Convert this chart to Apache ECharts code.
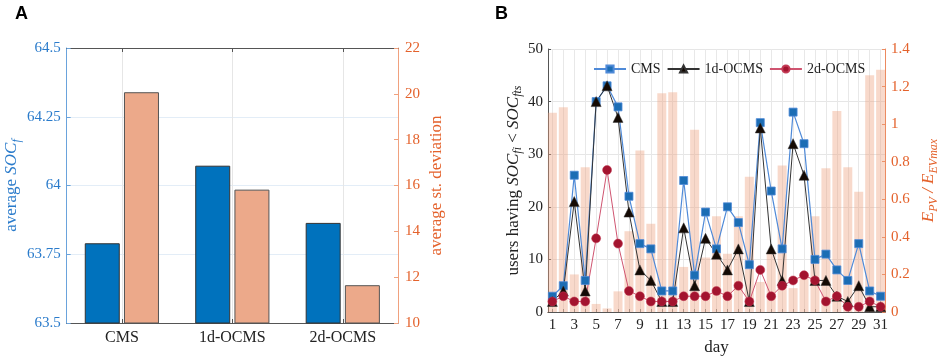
<!DOCTYPE html>
<html>
<head>
<meta charset="UTF-8">
<title>soc</title>
<script src="https://cdn.jsdelivr.net/npm/echarts@6/dist/echarts.min.js"></script>
<style>
	html, body { margin: 0; padding: 0; background: #fff; }
	#chart { width: 941px; height: 361px; }
</style>
</head>
<body>
<div id="chart"></div>
<script>
// panel A
var methods = ['CMS', '1d-OCMS', '2d-OCMS'];
var avgSocF = [63.79, 64.072, 63.864];
var avgStd = [20.07, 15.82, 11.65];

// panel B
var days = [1, 2, 3, 4, 5, 6, 7, 8, 9, 10, 11, 12, 13, 14, 15, 16, 17, 18, 19, 20, 21, 22, 23, 24, 25, 26, 27, 28, 29, 30, 31];
var dayLabels = [1, 3, 5, 7, 9, 11, 13, 15, 17, 19, 21, 23, 25, 27, 29, 31];
var cmsUsers = [3, 5, 26, 6, 40, 43, 39, 22, 13, 12, 4, 4, 25, 7, 19, 12, 20, 17, 9, 36, 23, 12, 38, 32, 10, 11, 8, 6, 13, 4, 3];
var ocms1dUsers = [2, 4, 21, 4, 40, 43, 37, 19, 8, 6, 2, 2, 16, 5, 14, 11, 8, 12, 2, 35, 12, 6, 32, 26, 6, 6, 3, 2, 5, 1, 1];
var ocms2dUsers = [2, 3, 2, 2, 14, 27, 13, 4, 3, 2, 2, 2, 3, 3, 3, 4, 3, 5, 2, 8, 3, 5, 6, 7, 6, 2, 3, 1, 1, 2, 1];
var pvRatio = [1.06, 1.09, 0.20, 0.77, 0.043, 0.019, 0.11, 0.43, 0.86, 0.47, 1.165, 1.17, 0.24, 0.97, 0.29, 0.51, 0.31, 0.51, 0.72, 0.16, 0.315, 0.78, 0.127, 0.18, 0.51, 0.765, 1.07, 0.77, 0.64, 1.26, 1.29];

var SERIF = 'Liberation Serif';
var BLUE = '#2a7bcb';
var ORANGE = '#e4622c';

function pairs(xs, ys) {
	return xs.map(function(x, i) { return [x, ys[i]]; });
}

function richFor(color) {
	return {
		n: { fontFamily: SERIF, fontSize: 17, color: color, lineHeight: 22, verticalAlign: 'middle' },
		i: { fontFamily: SERIF, fontSize: 17, fontStyle: 'italic', color: color, lineHeight: 22, verticalAlign: 'middle' },
		s: { fontFamily: SERIF, fontSize: 12, fontStyle: 'italic', color: color, lineHeight: 22, verticalAlign: 'bottom', padding: [10, 0, 0, 0] }
	};
}

var myChart = echarts.init(document.getElementById('chart'));
var option = {
	animation: false,
	title: [
		{ text: 'A', left: 10, top: 0, textStyle: { fontFamily: 'Liberation Sans', fontWeight: 'bold', fontSize: 18, color: '#000' } },
		{ text: 'B', left: 490, top: 0, textStyle: { fontFamily: 'Liberation Sans', fontWeight: 'bold', fontSize: 18, color: '#000' } }
	],
	legend: {
		data: ['CMS', '1d-OCMS', '2d-OCMS'],
		left: 588, top: 57,
		itemWidth: 32, itemHeight: 9, itemGap: 6,
		textStyle: { fontFamily: SERIF, fontSize: 14, color: '#222' }
	},
	grid: [
		{ left: 49, top: 48, width: 349, height: 275 },
		{ left: 548, top: 49, width: 345, height: 268 }
	],
	xAxis: [
		{
			gridIndex: 0, type: 'value', min: 0.5, max: 3.5,
			axisLine: { lineStyle: { color: '#555' } },
			axisTick: { inside: true, length: 4, customValues: [1, 2, 3], lineStyle: { color: '#555' } },
			axisLabel: { customValues: [1, 2, 3], margin: 7, fontFamily: SERIF, fontSize: 16, color: '#222',
				formatter: function(v) { return methods[v - 1]; } },
			splitLine: { show: true, lineStyle: { color: '#e6e6e6' } }
		},
		{
			gridIndex: 0, type: 'value', min: 0.5, max: 3.5, position: 'top',
			axisLine: { lineStyle: { color: '#555' } },
			axisTick: { inside: true, length: 4, customValues: [1, 2, 3], lineStyle: { color: '#555' } },
			axisLabel: { show: false },
			splitLine: { show: false }
		},
		{
			gridIndex: 1, type: 'value', min: 0.6, max: 31.4,
			name: 'day', nameLocation: 'middle', nameGap: 27,
			nameTextStyle: { fontFamily: SERIF, fontSize: 17, color: '#222' },
			axisLine: { lineStyle: { color: '#ec8a60' } },
			axisTick: { inside: true, length: 3, customValues: days, lineStyle: { color: '#888' } },
			axisLabel: { customValues: dayLabels, margin: 6, fontFamily: SERIF, fontSize: 15, color: '#222' },
			splitLine: { show: true, lineStyle: { color: '#e8e8e8' } }
		},
		{
			gridIndex: 1, type: 'value', min: 0.6, max: 31.4, position: 'top',
			axisLine: { lineStyle: { color: '#555' } },
			axisTick: { show: false },
			axisLabel: { show: false },
			splitLine: { show: false }
		}
	],
	yAxis: [
		{
			gridIndex: 0, type: 'value', min: 63.5, max: 64.5, interval: 0.25,
			name: '{n|average }{i|SOC}{s|f}', nameLocation: 'middle', nameGap: 33,
			nameTextStyle: { rich: richFor(BLUE) },
			axisLine: { show: true, lineStyle: { color: '#6aa3dc' } },
			axisTick: { show: true, inside: true, length: 4, lineStyle: { color: '#6aa3dc' } },
			axisLabel: { margin: 6, fontFamily: SERIF, fontSize: 15, color: BLUE },
			splitLine: { show: true, lineStyle: { color: '#e3edf7' } }
		},
		{
			gridIndex: 0, type: 'value', min: 10, max: 22, interval: 2, position: 'right',
			name: 'average st. deviation', nameLocation: 'middle', nameGap: 30,
			nameTextStyle: { fontFamily: SERIF, fontSize: 17, color: ORANGE },
			axisLine: { show: true, lineStyle: { color: '#f0a17e' } },
			axisTick: { show: true, inside: true, length: 4, lineStyle: { color: '#f0a17e' } },
			axisLabel: { margin: 7, fontFamily: SERIF, fontSize: 15, color: ORANGE },
			splitLine: { show: false }
		},
		{
			gridIndex: 1, type: 'value', min: 0, max: 50, interval: 10,
			name: '{n|users having }{i|SOC}{s|fi}{n| < }{i|SOC}{s|fts}', nameLocation: 'middle', nameGap: 21,
			nameTextStyle: { rich: richFor('#222') },
			axisLine: { show: true, lineStyle: { color: '#555' } },
			axisTick: { show: true, inside: true, length: 3, lineStyle: { color: '#555' } },
			axisLabel: { margin: 5, fontFamily: SERIF, fontSize: 15, color: '#222' },
			splitLine: { show: true, lineStyle: { color: '#e6e6e6' } }
		},
		{
			gridIndex: 1, type: 'value', min: 0, max: 1.4, interval: 0.2, position: 'right',
			name: '{i|E}{s|PV}{i| / E}{s|EVmax}', nameLocation: 'middle', nameGap: 33,
			nameTextStyle: { rich: richFor(ORANGE) },
			axisLine: { show: true, lineStyle: { color: '#ec8a60' } },
			axisTick: { show: true, inside: true, length: 3, lineStyle: { color: '#ec8a60' } },
			axisLabel: { margin: 6, fontFamily: SERIF, fontSize: 15, color: ORANGE },
			splitLine: { show: false }
		}
	],
	series: [
		{
			name: 'avg SOCf', type: 'bar', xAxisIndex: 0, yAxisIndex: 0,
			data: pairs([1, 2, 3], avgSocF),
			barWidth: 35, barGap: '12%',
			itemStyle: { color: '#0072bd', borderColor: '#333', borderWidth: 1 }
		},
		{
			name: 'avg std', type: 'bar', xAxisIndex: 0, yAxisIndex: 1,
			data: pairs([1, 2, 3], avgStd),
			barWidth: 35, barGap: '12%',
			itemStyle: { color: '#eca98a', borderColor: '#555', borderWidth: 1 }
		},
		{
			name: 'EPV', type: 'bar', xAxisIndex: 2, yAxisIndex: 3,
			data: pairs(days, pvRatio),
			barWidth: 9,
			itemStyle: { color: 'rgba(238,160,125,0.40)' }
		},
		{
			name: 'CMS', type: 'line', xAxisIndex: 2, yAxisIndex: 2,
			data: pairs(days, cmsUsers),
			symbol: 'rect', symbolSize: 8,
			lineStyle: { color: '#4f8ad8', width: 1.2 },
			itemStyle: { color: '#1c6db4', borderColor: '#4f8ad8', borderWidth: 0.8 }
		},
		{
			name: '1d-OCMS', type: 'line', xAxisIndex: 2, yAxisIndex: 2,
			data: pairs(days, ocms1dUsers),
			symbol: 'triangle', symbolSize: 10,
			lineStyle: { color: '#333', width: 1 },
			itemStyle: { color: '#140a04', borderColor: '#333', borderWidth: 0.5 }
		},
		{
			name: '2d-OCMS', type: 'line', xAxisIndex: 2, yAxisIndex: 2,
			data: pairs(days, ocms2dUsers),
			symbol: 'circle', symbolSize: 9,
			lineStyle: { color: '#cf5470', width: 1 },
			itemStyle: { color: '#a3142f', borderColor: '#c33a55', borderWidth: 0.5 }
		}
	]
};
myChart.setOption(option);
</script>
</body>
</html>
